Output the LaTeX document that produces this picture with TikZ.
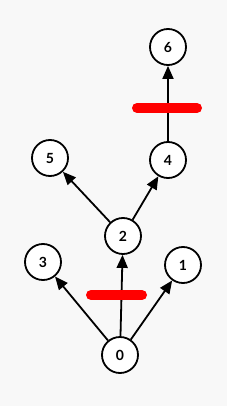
\documentclass[tikz,border=0pt]{standalone}
\usepackage{fontspec}
\setmainfont{Lato}
\usetikzlibrary{arrows.meta}
\definecolor{bg}{HTML}{F8F8F8}
\definecolor{cut}{HTML}{FF0000}
\begin{document}
\begin{tikzpicture}[x=1pt,y=-1pt,
  vert/.style={circle,draw=black,line width=1.8pt,fill=white,minimum size=36pt,inner sep=0pt,font=\fontsize{14}{14}\selectfont\bfseries},
  edge/.style={line width=1.8pt,-{Triangle[length=13pt,width=11pt]}},
  cutbar/.style={line width=10pt,line cap=round,draw=cut}]
\fill[bg] (0,0) rectangle (227,406);
\useasboundingbox (0,0) rectangle (227,406);
\node[vert] (n6) at (168,47) {6};
\node[vert] (n4) at (168,160) {4};
\node[vert] (n5) at (50,158) {5};
\node[vert] (n2) at (123,236) {2};
\node[vert] (n3) at (43,262) {3};
\node[vert] (n1) at (183,265) {1};
\node[vert] (n0) at (120,355) {0};
\draw[edge] (n0) -- (n3);
\draw[edge] (n0) -- (n2);
\draw[edge] (n0) -- (n1);
\draw[edge] (n2) -- (n5);
\draw[edge] (n2) -- (n4);
\draw[edge] (n4) -- (n6);
\coordinate (a1) at (137,108);
\coordinate (a2) at (197,108);
\coordinate (b1) at (91,295);
\coordinate (b2) at (142,295);
\draw[cutbar] (a1) -- (a2);
\draw[cutbar] (b1) -- (b2);
\end{tikzpicture}
\end{document}
